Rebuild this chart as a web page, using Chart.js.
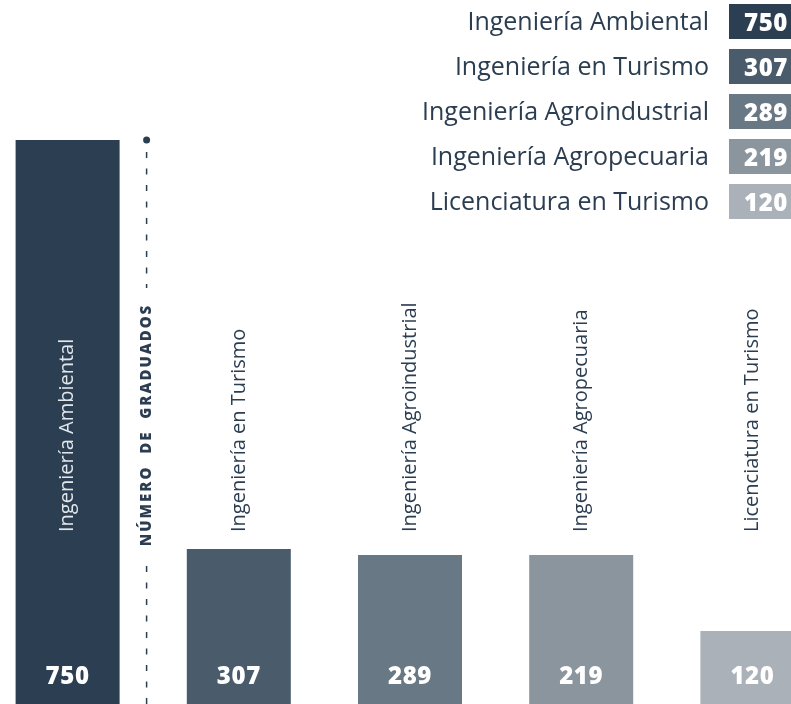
<!DOCTYPE html>
<html lang="es">
<head>
<meta charset="utf-8">
<title>Número de graduados</title>
<script src="https://cdn.jsdelivr.net/npm/chart.js@4.4.0/dist/chart.umd.min.js"></script>
<style>
    html, body { margin: 0; padding: 0; background: #fff; overflow: hidden; }
    body { width: 791px; height: 704px; position: relative; font-family: "Open Sans", Roboto, sans-serif; }
    #wrap { position: absolute; left: -18px; top: 0; width: 856px; height: 704px; }
    #leyenda { position: absolute; top: 4px; right: 0; left: 0; }
    .fila { position: absolute; left: 0; right: 0; height: 35px; }
    .fila .txt { position: absolute; right: 82px; top: -1px; line-height: 35px; font-size: 25px; font-weight: 400; color: #2b3d50; white-space: nowrap; }
    .fila .num { position: absolute; left: 729px; width: 66px; top: 0; height: 35px; line-height: 35px; font-size: 24px; font-weight: 800; letter-spacing: 0.6px; color: #fff; padding-left: 15px; box-sizing: border-box; }
</style>
</head>
<body>
<div id="wrap"><canvas id="chartGraduados"></canvas></div>
<div id="leyenda"></div>
<script>
// carreras y número de graduados
const carreras = ['Ingeniería Ambiental', 'Ingeniería en Turismo', 'Ingeniería Agroindustrial', 'Ingeniería Agropecuaria', 'Licenciatura en Turismo'];
const graduados = [750, 307, 289, 219, 120];
// altura con que cada barra aparece dibujada en el original (no es proporcional al valor)
const alturas = [750, 206, 198, 198, 97];
const colores = ['#2b3e52', '#4a5b6b', '#697885', '#8a959e', '#aab1b8'];
const tituloEje = 'NÚMERO  DE  GRADUADOS';

document.addEventListener("DOMContentLoaded", () => {
    // ---------- leyenda ----------
    const ley = document.getElementById("leyenda");
    carreras.forEach((c, i) => {
        const fila = document.createElement("div");
        fila.className = "fila";
        fila.style.top = (i * 45) + "px";
        fila.innerHTML = '<span class="txt"></span><span class="num"></span>';
        fila.querySelector(".txt").textContent = c;
        const n = fila.querySelector(".num");
        n.textContent = graduados[i];
        n.style.background = colores[i];
        ley.appendChild(fila);
    });

    // ---------- textos y eje punteado ----------
    const etiquetas = {
        id: 'etiquetas',
        afterDatasetsDraw(chart) {
            const { ctx } = chart;
            const meta = chart.getDatasetMeta(0);
            meta.data.forEach((bar, i) => {
                // nombre de la carrera, vertical
                ctx.save();
                ctx.translate(bar.x, 532);
                ctx.rotate(-Math.PI / 2);
                ctx.font = '400 20px "Open Sans"';
                ctx.fillStyle = i === 0 ? '#e3e7eb' : '#2b3d50';
                ctx.textAlign = 'left';
                ctx.textBaseline = 'middle';
                ctx.fillText(carreras[i], 0, 0);
                ctx.restore();

                // valor abajo
                ctx.save();
                ctx.font = '800 24px "Open Sans"';
                if ('letterSpacing' in ctx) ctx.letterSpacing = '0.6px';
                ctx.fillStyle = '#fff';
                ctx.textAlign = 'center';
                ctx.textBaseline = 'middle';
                ctx.fillText(String(graduados[i]), bar.x, 677);
                ctx.restore();
            });

            // línea punteada a la derecha de la primera barra
            const x = meta.data[0].x + 79;
            const yTop = chart.scales.y.getPixelForValue(graduados[0]);
            ctx.save();
            ctx.strokeStyle = '#2b3d50';
            ctx.fillStyle = '#2b3d50';
            ctx.lineWidth = 1.5;
            ctx.setLineDash([6, 10.5]);
            ctx.beginPath();
            ctx.moveTo(x, yTop + 12); ctx.lineTo(x, 288);
            ctx.moveTo(x, 566); ctx.lineTo(x, 704);
            ctx.stroke();
            ctx.setLineDash([]);
            ctx.beginPath();
            ctx.arc(x, yTop, 3.5, 0, Math.PI * 2);
            ctx.fill();

            ctx.translate(x, 425);
            ctx.rotate(-Math.PI / 2);
            ctx.font = '800 15px "Open Sans"';
            if ('letterSpacing' in ctx) ctx.letterSpacing = '2px';
            ctx.textAlign = 'center';
            ctx.textBaseline = 'middle';
            ctx.fillText(tituloEje, 0, 0);
            ctx.restore();
        }
    };

    const ctx = document.getElementById("chartGraduados");
    new Chart(ctx.getContext("2d"), {
        type: 'bar',
        data: {
            labels: carreras,
            datasets: [{
                data: alturas,
                backgroundColor: colores,
                borderWidth: 0,
                barPercentage: 0.6075,
                categoryPercentage: 1
            }]
        },
        options: {
            responsive: true,
            maintainAspectRatio: false,
            animation: false,
            layout: { padding: { top: 140, left: 0, right: 0, bottom: 0 } },
            plugins: { legend: { display: false }, tooltip: { enabled: false } },
            scales: {
                x: { display: false },
                y: { display: false, min: 0, max: 750 }
            }
        },
        plugins: [etiquetas]
    });
});
</script>
</body>
</html>
